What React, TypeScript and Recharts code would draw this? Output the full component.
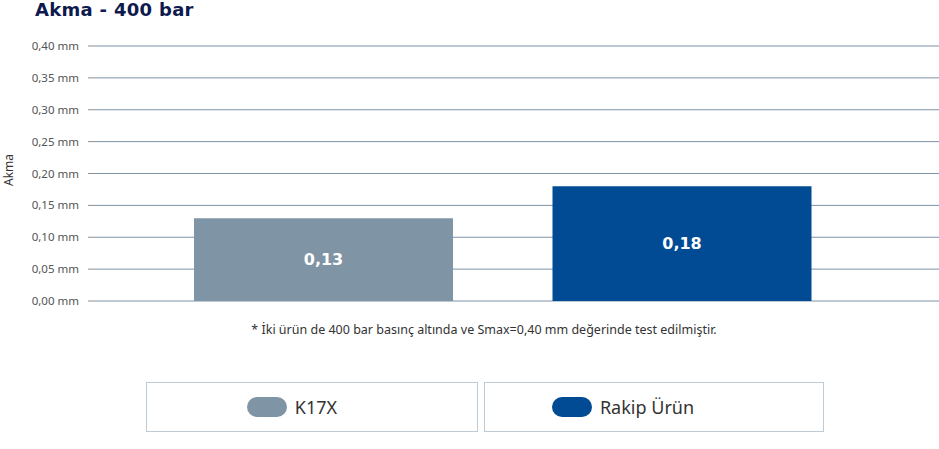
import { BarChart, Bar, XAxis, YAxis, CartesianGrid, Cell, LabelList } from 'recharts';

const products = ['K17X', 'Rakip Ürün'];
const akmaValues = [0.13, 0.18];
const barColors = ['#7f95a5', '#004b93'];
const yTicks = [0, 0.05, 0.1, 0.15, 0.2, 0.25, 0.3, 0.35, 0.4];

const FONT = '"Noto Sans", "Open Sans", sans-serif';

const chartData = products.map((name, i) => ({ name, value: akmaValues[i] }));

const fmt = (v: number, digits: number) => v.toFixed(digits).replace('.', ',');

export default function App() {
  return (
    <div style={{ position: 'absolute', left: 0, top: 0, width: 939, height: 449, background: '#fff', fontFamily: FONT }}>
      {/* title */}
      <div
        style={{
          position: 'absolute',
          left: 35,
          top: 0,
          lineHeight: '20px',
          fontSize: 18,
          fontWeight: 700,
          color: '#0e1a4e',
          fontFamily: '"DejaVu Sans", sans-serif',
          letterSpacing: 0.3,
        }}
      >
        Akma - 400 bar
      </div>

      {/* y axis title */}
      <div
        style={{
          position: 'absolute',
          left: 8,
          top: 170,
          fontSize: 12,
          color: '#333',
          transform: 'translate(-50%, -50%) rotate(-90deg)',
          whiteSpace: 'nowrap',
        }}
      >
        Akma
      </div>

      <div style={{ position: 'absolute', left: 0, top: 0 }}>
        <BarChart width={939} height={316} data={chartData} margin={{ top: 46, right: 0, bottom: 15, left: 0 }}>
          <CartesianGrid vertical={false} stroke="#7d93a6" strokeWidth={1} />
          <XAxis dataKey="name" hide padding={{ left: 52, right: 78 }} />
          <YAxis
            width={92}
            domain={[0, 0.4]}
            ticks={yTicks}
            interval={0}
            axisLine={false}
            tickLine={{ stroke: '#9c8a84' }}
            tickSize={4}
            tickMargin={9}
            tickFormatter={(v: number) => `${fmt(v, 2)} mm`}
            tick={{ fontSize: 11.5, fill: '#555', fontFamily: FONT }}
          />
          <Bar dataKey="value" barSize={259} isAnimationActive={false}>
            {chartData.map((d, i) => (
              <Cell key={d.name} fill={barColors[i]} />
            ))}
            <LabelList
              dataKey="value"
              position="center"
              formatter={(v: number) => fmt(v, 2)}
              style={{ fill: '#fff', fontSize: 16, fontWeight: 700, fontFamily: '"DejaVu Sans", sans-serif' }}
            />
          </Bar>
        </BarChart>
      </div>

      {/* footnote */}
      <div style={{ position: 'absolute', left: 0, width: 968, top: 321, textAlign: 'center', fontSize: 12.5, color: '#333' }}>
        * İki ürün de 400 bar basınç altında ve Smax=0,40 mm değerinde test edilmiştir.
      </div>

      {/* legend */}
      {products.map((name, i) => (
        <div
          key={name}
          style={{
            position: 'absolute',
            left: i === 0 ? 146 : 484,
            top: 382,
            width: i === 0 ? 330 : 338,
            height: 48,
            border: '1px solid #bccbd6',
            display: 'flex',
            alignItems: 'center',
            justifyContent: 'center',
          }}
        >
          <div style={{ display: 'flex', alignItems: 'center', gap: 8, marginRight: i === 0 ? 40 : 62 }}>
            <span style={{ width: 40, height: 20, borderRadius: 10, background: barColors[i], display: 'inline-block' }} />
            <span style={{ fontSize: 18, color: '#333' }}>{name}</span>
          </div>
        </div>
      ))}
    </div>
  );
}
